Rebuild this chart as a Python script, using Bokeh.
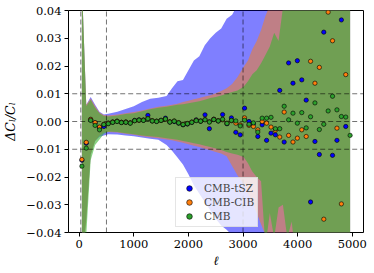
from bokeh.plotting import figure
from bokeh.models import ColumnDataSource, FixedTicker, Range1d
from bokeh.embed import file_html
from bokeh.resources import INLINE

# ---- binned multipoles and residuals ----
ell = [50, 130, 211, 292, 372, 452, 533, 614, 694, 774, 855, 936, 1016, 1096, 1177, 1258,
       1338, 1418, 1499, 1580, 1660, 1740, 1821, 1902, 1982, 2062, 2143, 2224, 2304, 2384,
       2465, 2546, 2626, 2706, 2787, 2868, 2948, 3028, 3109, 3190, 3270, 3350, 3431, 3512,
       3592, 3672, 3753, 3834, 3914, 3994, 4075, 4156, 4236, 4316, 4397, 4478, 4558, 4638,
       4719, 4800, 4880, 4960]

tsz_pts = [-0.0140, -0.0078, 0.0006, -0.0005, -0.0022, -0.0018, -0.0006, -0.0002, 0.0001, -0.0003,
           -0.0002, -0.0005, 0.0004, 0.0006, 0.0005, 0.0022, 0.0002, 0.0001, 0.0004, 0.0012,
           -0.0002, 0.0000, -0.0006, -0.0012, -0.0009, -0.0003, 0.0006, 0.0001, 0.0024, -0.0026,
           0.0008, 0.0002, 0.0025, -0.0008, 0.0013, -0.0039, -0.0048, 0.0048, 0.0000, -0.0008,
           -0.0054, -0.0012, -0.0068, -0.0042, -0.0048, 0.0112, -0.0074, 0.0211, 0.0138, 0.0219,
           0.0150, 0.0077, -0.0290, -0.0072, -0.0119, 0.0322, 0.0450, -0.0122, -0.0068, 0.0366,
           -0.0018, -0.0450]

cib_pts = [-0.0137, -0.0075, 0.0008, -0.0004, -0.0020, -0.0010, -0.0006, -0.0002, 0.0001, -0.0003,
           -0.0002, -0.0005, 0.0003, 0.0004, 0.0005, 0.0011, 0.0003, 0.0001, 0.0004, 0.0008,
           -0.0001, 0.0002, -0.0004, -0.0010, -0.0007, -0.0002, 0.0004, 0.0002, 0.0007, -0.0001,
           0.0008, 0.0003, 0.0006, -0.0006, 0.0003, -0.0006, -0.0012, 0.0013, -0.0014, -0.0018,
           -0.0030, 0.0000, -0.0006, -0.0020, -0.0032, -0.0056, 0.0034, -0.0050, -0.0074, -0.0060,
           -0.0030, -0.0054, 0.0217, 0.0138, 0.0195, -0.0352, 0.0394, 0.0291, -0.0024, -0.0297,
           0.0169, -0.0450]

cmb_pts = [-0.0161, -0.0096, 0.0004, -0.0014, -0.0030, -0.0011, -0.0008, -0.0003, 0.0000, -0.0004,
           -0.0003, -0.0006, 0.0003, 0.0005, 0.0004, 0.0010, 0.0002, 0.0000, 0.0004, 0.0009,
           -0.0002, 0.0001, -0.0005, -0.0011, -0.0008, -0.0003, 0.0003, 0.0001, 0.0006, -0.0002,
           0.0007, 0.0002, 0.0008, -0.0007, 0.0004, 0.0002, -0.0016, 0.0005, -0.0010, -0.0005,
           -0.0038, 0.0012, 0.0012, 0.0015, -0.0026, -0.0026, 0.0055, 0.0006, 0.0030, -0.0006,
           0.0032, -0.0023, 0.0017, 0.0067, -0.0029, -0.0010, 0.0038, 0.0091, 0.0042, 0.0018,
           0.0016, -0.0050]

# ---- error bands ----
band_ell = [50, 130, 211, 292, 372, 452, 533, 700, 850, 1000, 1150, 1300, 1450, 1600, 1700, 1800,
            1900, 2000, 2100, 2200, 2300, 2400, 2500, 2600, 2700, 2800, 2900, 3010, 3090, 3170,
            3250, 3330, 3410, 3490, 3570, 3650, 3730, 3810, 3890, 3970, 4960]

tsz_hi = [0.05, 0.006, 0.0088, 0.006, 0.0035, 0.0025, 0.0028,
          0.0035, 0.0045, 0.0055, 0.007, 0.0082, 0.0086, 0.0092, 0.012, 0.0145, 0.015, 0.0185,
          0.022, 0.0235, 0.0275, 0.030, 0.032, 0.0335, 0.037, 0.0385, 0.042,
          0.08, 0.08, 0.08, 0.08, 0.08, 0.08, 0.08, 0.08, 0.08, 0.08, 0.08, 0.08, 0.08, 0.08]
tsz_lo = [-0.05, -0.035, -0.012, -0.007, -0.0055, -0.005, -0.0046,
          -0.0047, -0.005, -0.0053, -0.0058, -0.0062, -0.0066, -0.0085, -0.0105, -0.013, -0.0155,
          -0.019, -0.023, -0.026, -0.029, -0.032, -0.035, -0.0375, -0.039, -0.041, -0.05,
          -0.08, -0.08, -0.08, -0.08, -0.08, -0.08, -0.08, -0.08, -0.08, -0.08, -0.08, -0.08,
          -0.08, -0.08]

cib_hi = [0.05, 0.006, 0.0083, 0.0056, 0.0032, 0.0023, 0.0022,
          0.0025, 0.003, 0.0034, 0.004, 0.0047, 0.0053, 0.0057, 0.006, 0.0064, 0.007, 0.0075,
          0.008, 0.0085, 0.009, 0.0095, 0.0102, 0.011, 0.012, 0.0135, 0.016,
          0.0196, 0.022, 0.026, 0.029, 0.033, 0.038, 0.042, 0.05, 0.06, 0.07, 0.08, 0.08, 0.08,
          0.08]
cib_lo = [-0.05, -0.036, -0.012, -0.007, -0.005, -0.004, -0.0038,
          -0.004, -0.0044, -0.0048, -0.0053, -0.0057, -0.006, -0.0065, -0.0068, -0.0072, -0.0077,
          -0.0082, -0.0087, -0.0092, -0.0098, -0.0104, -0.011, -0.0115, -0.0125, -0.016, -0.0195,
          -0.0225, -0.026, -0.029, -0.033, -0.037, -0.041, -0.05, -0.06, -0.07, -0.08, -0.08,
          -0.08, -0.08, -0.08]

cmb_hi = [0.05, 0.0055, 0.0078, 0.005, 0.003, 0.002, 0.0018,
          0.0022, 0.0027, 0.003, 0.0037, 0.0044, 0.005, 0.0053, 0.0057, 0.006, 0.0062, 0.0066,
          0.0069, 0.0073, 0.0078, 0.0085, 0.0088, 0.0094, 0.0100, 0.0106, 0.0112,
          0.0125, 0.0145, 0.017, 0.0185, 0.021, 0.024, 0.027, 0.032, 0.029, 0.041, 0.05, 0.06,
          0.07, 0.08]
cmb_lo = [-0.05, -0.041, -0.014, -0.0085, -0.0065, -0.0045, -0.0036,
          -0.0038, -0.0042, -0.0046, -0.005, -0.0053, -0.0056, -0.006, -0.0063, -0.0066, -0.007,
          -0.0074, -0.0078, -0.0082, -0.0087, -0.0092, -0.0097, -0.0103, -0.011, -0.0115, -0.012,
          -0.0128, -0.015, -0.018, -0.02, -0.0215, -0.045, -0.033, -0.042, -0.031, -0.03, -0.042,
          -0.036, -0.05, -0.08]

vlines = [30, 500, 3000]
hlines = [-0.01, 0.0, 0.01]

x_ticks = [0, 1000, 2000, 3000, 4000, 5000]
y_ticks = [-0.04, -0.03, -0.02, -0.01, 0.0, 0.01, 0.02, 0.03, 0.04]
y_tick_labels = ["\u22120.04", "\u22120.03", "\u22120.02", "\u22120.01", "0.00",
                 "0.01", "0.02", "0.03", "0.04"]

series = [("CMB-tSZ", tsz_pts, "#0000ff"), ("CMB-CIB", cib_pts, "#ff7f0e"), ("CMB", cmb_pts, "#2ca02c")]
bands = [(tsz_lo, tsz_hi, "#0000ff", 0.5), (cib_lo, cib_hi, "#ff7f0e", 0.5), (cmb_lo, cmb_hi, "#3cb432", 0.6)]

FONT = "DejaVu Serif"

p = figure(width=374, height=273, output_backend="svg", toolbar_location=None,
           x_range=Range1d(-195, 5205), y_range=Range1d(-0.04, 0.04),
           min_border_left=65, min_border_right=11, min_border_top=10, min_border_bottom=41)

for lo, hi, col, a in bands:
    p.varea(x=band_ell, y1=lo, y2=hi, fill_color=col, fill_alpha=a)

# dashed reference lines
p.segment(x0=vlines, x1=vlines, y0=[-1] * len(vlines), y1=[1] * len(vlines),
          line_color="black", line_alpha=0.55, line_width=1, line_dash="5 3")
p.segment(x0=[-1e5] * len(hlines), x1=[1e5] * len(hlines), y0=hlines, y1=hlines,
          line_color="black", line_alpha=0.55, line_width=1, line_dash="5 3")

for name, vals, col in series:
    src = ColumnDataSource(dict(x=ell, y=vals))
    p.scatter("x", "y", source=src, size=4.3, fill_color=col, line_color="black",
              line_width=0.6, legend_label=name)

p.xgrid.visible = False
p.ygrid.visible = False
p.outline_line_color = "black"
p.outline_line_width = 1
p.outline_line_alpha = 1

for ax in (p.xaxis[0], p.yaxis[0]):
    ax.axis_line_color = None
    ax.major_tick_in = 0
    ax.major_tick_out = 4
    ax.major_tick_line_color = "black"
    ax.minor_tick_line_color = None
    ax.major_label_text_font = FONT
    ax.major_label_text_font_size = "11.5px"
    ax.major_label_text_color = "black"
    ax.axis_label_text_font = FONT
    ax.axis_label_text_font_size = "12.5px"
    ax.axis_label_text_font_style = "italic"
    ax.axis_label_text_color = "black"

p.xaxis.ticker = FixedTicker(ticks=x_ticks)
p.yaxis.ticker = FixedTicker(ticks=y_ticks)
p.yaxis.major_label_overrides = {t: s for t, s in zip(y_ticks, y_tick_labels)}
p.xaxis.axis_label = "\u2113"
p.yaxis.axis_label = "\u0394C\u2097/C\u2097"
p.xaxis.major_label_standoff = 3
p.yaxis.major_label_standoff = 3
p.xaxis.axis_label_standoff = 2
p.yaxis.axis_label_standoff = 5

lg = p.legend[0]
lg.location = (107, 5)
lg.label_text_font = FONT
lg.label_text_font_size = "10.5px"
lg.padding = 3
lg.spacing = 0
lg.glyph_width = 20
lg.glyph_height = 14
lg.label_height = 14
lg.label_standoff = 5
lg.margin = 0
lg.background_fill_color = "white"
lg.background_fill_alpha = 0.8
lg.border_line_color = "#cccccc"
lg.border_line_width = 1

open("out.html", "w").write(file_html(p, INLINE))
